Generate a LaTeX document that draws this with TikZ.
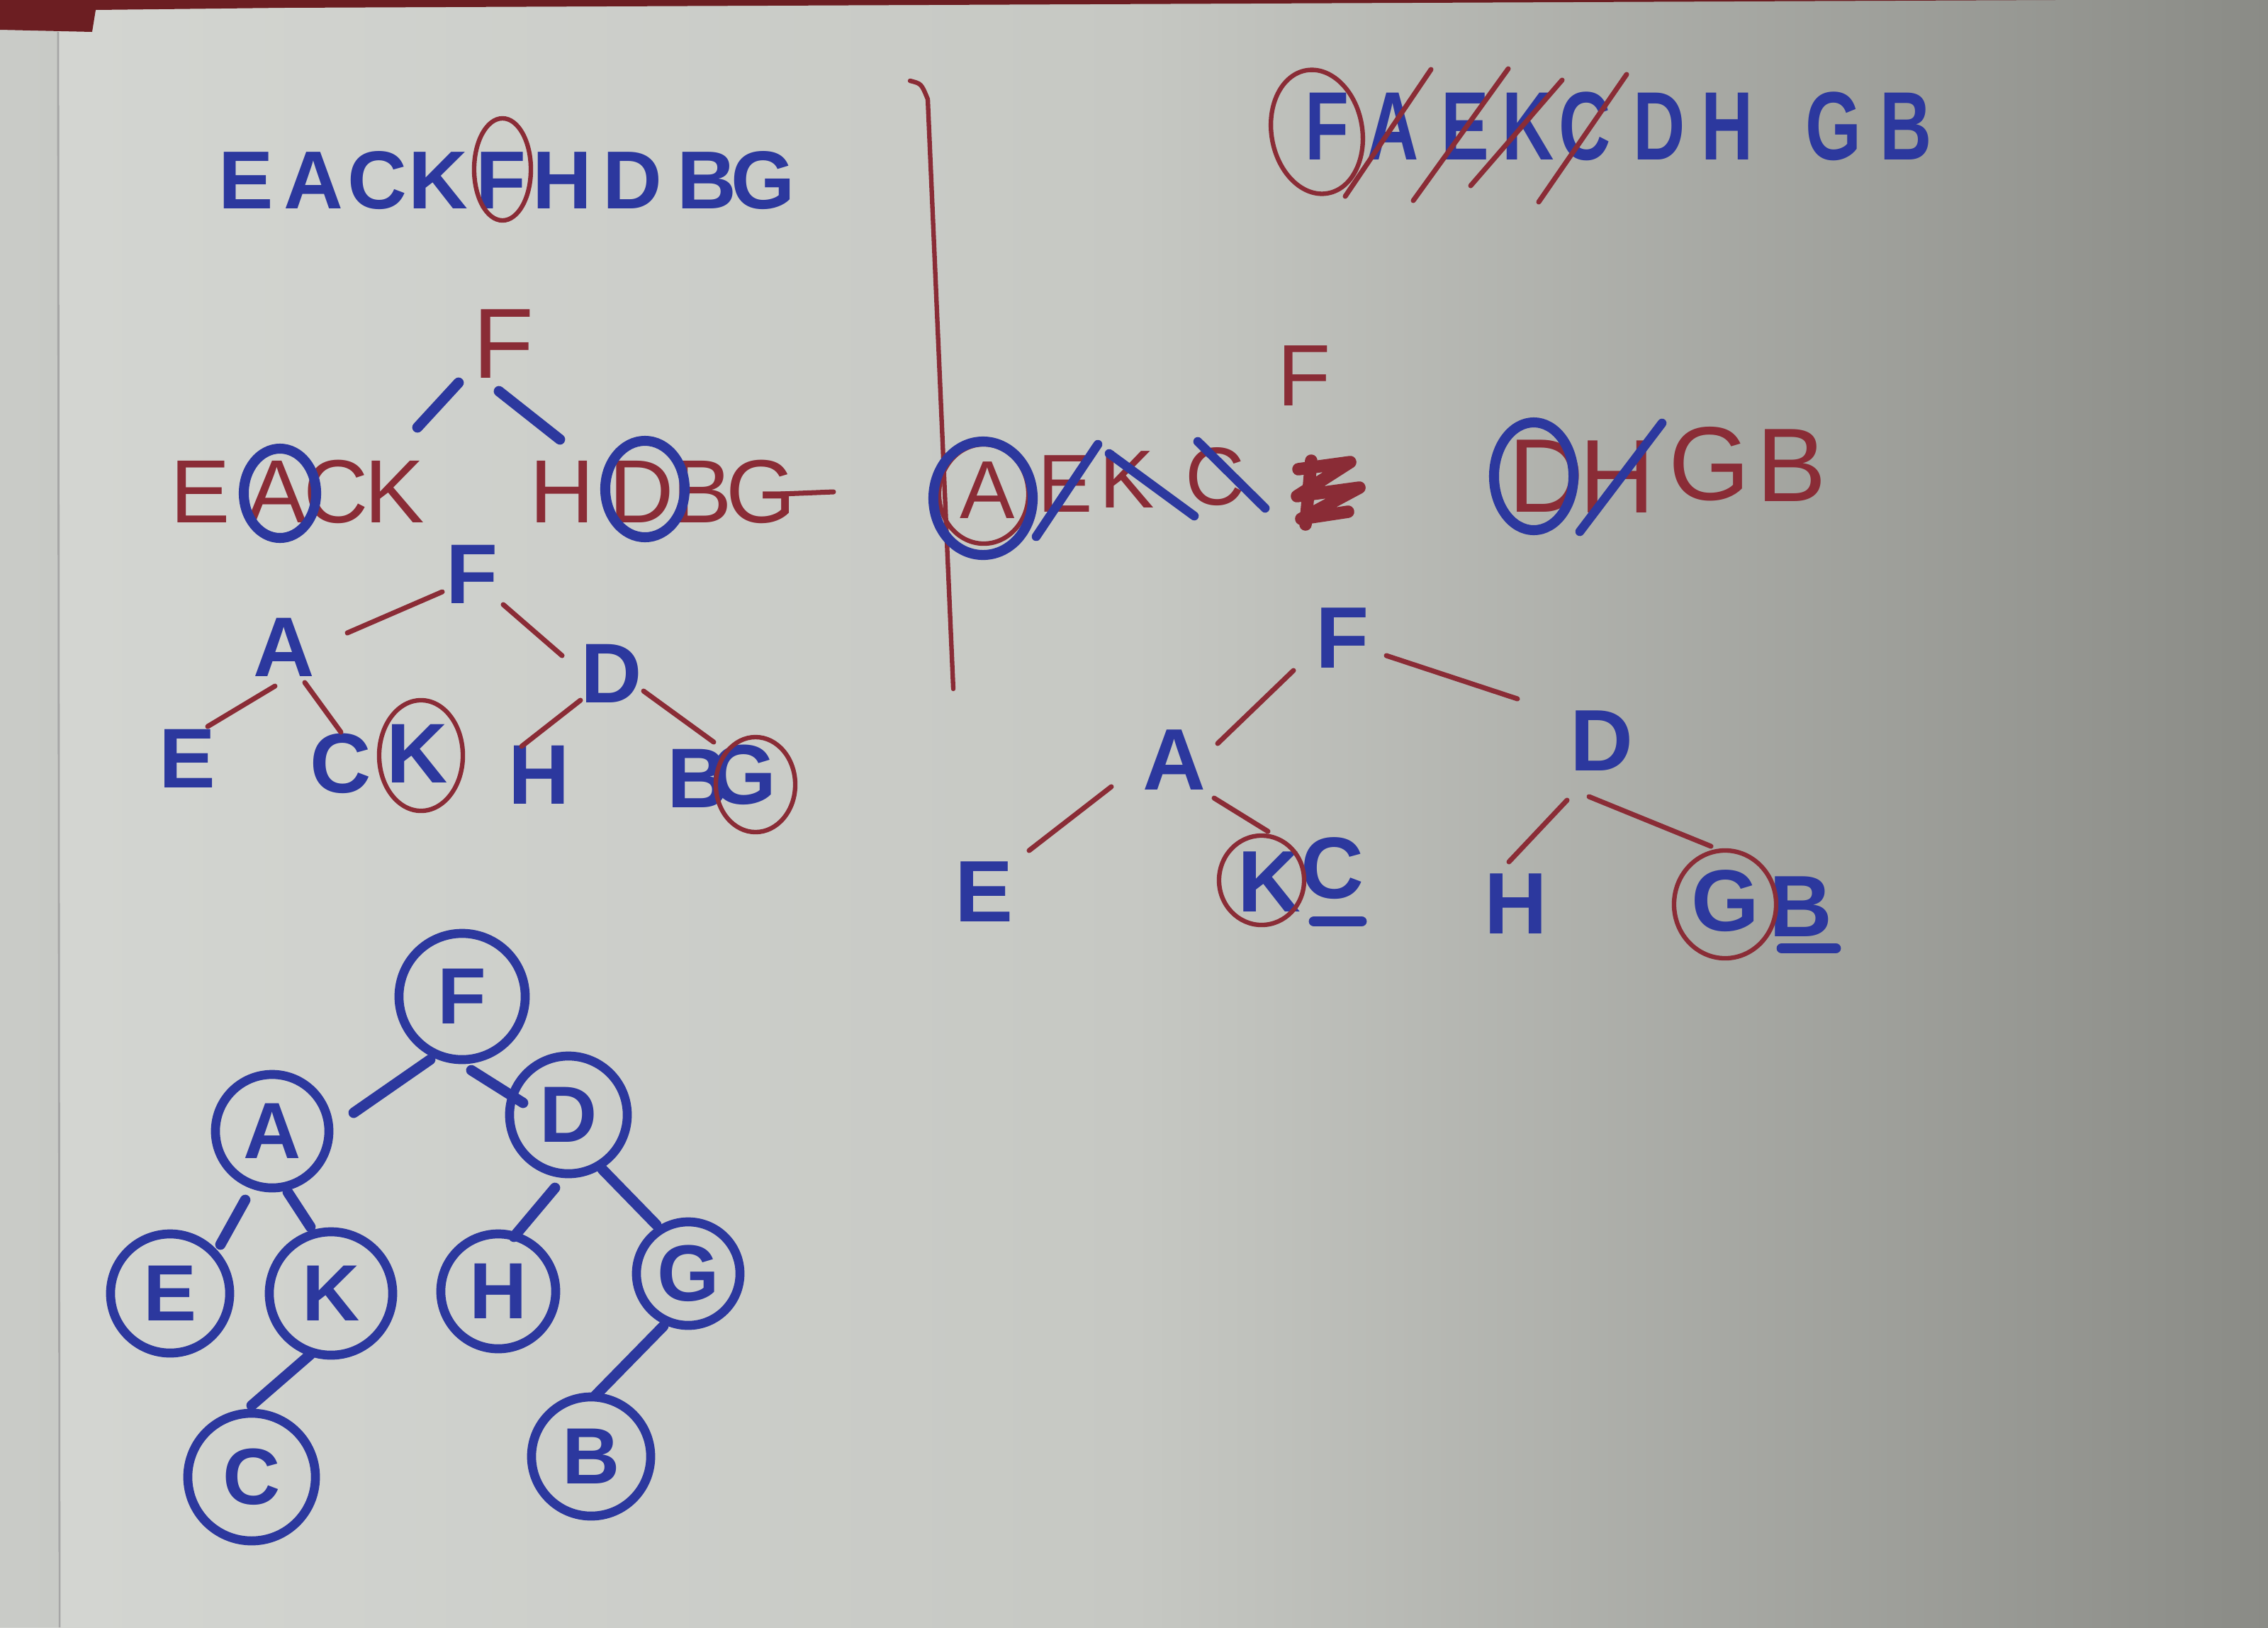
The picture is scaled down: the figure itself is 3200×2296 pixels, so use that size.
\documentclass[tikz,border=0pt]{standalone}
\usepackage{fontspec}
\setmainfont{Liberation Sans}
\newfontfamily\narrowsf[FakeStretch=0.74]{Liberation Sans}
\definecolor{ink}{RGB}{44,56,158}
\definecolor{pen}{RGB}{138,44,54}
\definecolor{tablecol}{RGB}{108,30,34}
\definecolor{paperL}{RGB}{212,214,210}
\definecolor{paperM}{RGB}{198,200,195}
\definecolor{paperR}{RGB}{138,139,134}
\begin{document}
\begin{tikzpicture}[x=0.01cm,y=-0.01cm,
  mk/.style={text=ink, font=\bfseries\fontsize{#1}{#1}\selectfont, inner sep=0pt},
  mkn/.style={text=ink, font=\narrowsf\bfseries\fontsize{#1}{#1}\selectfont, inner sep=0pt},
  pn/.style={text=pen, font=\fontsize{#1}{#1}\selectfont, inner sep=0pt},
  penline/.style={draw=pen, line width=2pt, line cap=round},
  inkline/.style={draw=ink, line width=4.2pt, line cap=round},
  pring/.style={draw=pen, line width=1.8pt},
  iring/.style={draw=ink, line width=4pt},
  bnode/.style={circle, draw=ink, line width=3.6pt, text=ink,
    font=\bfseries\fontsize{32}{32}\selectfont, inner sep=0pt, minimum size=#1},
]
\useasboundingbox (0,0) rectangle (3200,2296);
% paper and table
\shade[left color=paperL, right color=paperM] (0,0) rectangle (1600,2296);
\shade[left color=paperM, right color=paperR] (1600,0) rectangle (3200,2296);
\fill[black, opacity=0.05] (0,0) rectangle (82,2296);
\draw[black!35, line width=0.8pt] (82,45) -- (84,2296);
\fill[tablecol] (0,0) -- (2900,0) -- (400,11) -- (135,14) -- (130,45) -- (0,42) -- cycle;

% ---------- top-left sequence ----------
\foreach \l/\x [count=\i] in {E/347,A/442,C/532,K/618,F/707,H/793,D/892,B/997,G/1077}
  \node[mk=33] (sa\i) at (\x,255) {\l};
\draw[pring] (709,239) ellipse [x radius=0.40cm, y radius=0.72cm];

% ---------- first split ----------
\node[pn=40] (Fa) at (710,485) {F};
\foreach \l/\x [count=\i] in {E/283,A/391,C/474,K/557}
  \node[pn=36] (La\i) at (\x,694) {\l};
\foreach \l/\x [count=\i] in {H/793,D/905,B/991,G/1074}
  \node[pn=36] (Ra\i) at (\x,694) {\l};
\draw[penline] ([shift={(28,3)}]Ra4.center) -- ([shift={(102,0)}]Ra4.center);
\draw[iring] (395,696) ellipse [x radius=0.51cm, y radius=0.63cm];
\draw[iring] (910,690) ellipse [x radius=0.56cm, y radius=0.68cm];
\draw[inkline] ([shift={(-63,55)}]Fa.center) -- ([shift={(198,-91)}]La2.center);
\draw[inkline] ([shift={(-6,67)}]Fa.center) -- ([shift={(-115,-74)}]Ra2.center);

% ---------- tree 2 ----------
\node[mk=34] (Fb) at (666,810) {F};
\node[mk=34] (Ab) at (401,913) {A};
\node[mk=34] (Db) at (863,950) {D};
\node[mk=34] (Eb) at (264,1070) {E};
\node[mk=34] (Cb) at (481,1077) {C};
\node[mk=34] (Kb) at (589,1063) {K};
\node[mk=34] (Hb) at (761,1093) {H};
\node[mk=34] (Bb) at (985,1098) {B};
\node[mk=34] (Gb) at (1049,1093) {G};
\draw[pring] (594,1066) ellipse [x radius=0.59cm, y radius=0.78cm];
\draw[pring] (1066,1107) ellipse [x radius=0.56cm, y radius=0.67cm];
\draw[penline] ([shift={(-42,25)}]Fb.center) -- ([shift={(89,-20)}]Ab.center);
\draw[penline] ([shift={(44,43)}]Fb.center) -- ([shift={(-70,-25)}]Db.center);
\draw[penline] ([shift={(-13,55)}]Ab.center) -- ([shift={(29,-45)}]Eb.center);
\draw[penline] ([shift={(29,50)}]Ab.center) -- ([shift={(0,-44)}]Cb.center);
\draw[penline] ([shift={(-44,38)}]Db.center) -- ([shift={(-25,-40)}]Hb.center);
\draw[penline] ([shift={(45,25)}]Db.center) -- ([shift={(22,-51)}]Bb.center);

% ---------- divider ----------
\draw[penline, line width=1.8pt] (1284,114) .. controls (1300,118) .. (1309,140) -- (1345,972);

% ---------- top-right sequence ----------
\foreach \l/\x [count=\i] in {F/1872,A/1965,E/2067,K/2156,C/2236,D/2341,H/2437,G/2587,B/2689}
  \node[mkn=39] (sc\i) at (\x,178) {\l};
\draw[pring, rotate around={10:(1858,186)}] (1858,186) ellipse [x radius=0.64cm, y radius=0.88cm];
\draw[penline] (2019,98) -- (1898,277);
\draw[penline] (2128,97) -- (1994,283);
\draw[penline] (2204,113) -- (2075,262);
\draw[penline] (2295,105) -- (2171,285);

% ---------- second split ----------
\node[pn=35] (Fc) at (1840,530) {F};
\foreach \l/\x/\y [count=\i] in {A/1393/692,E/1503/683,K/1590/677,C/1714/673}
  \node[pn=33] (Lc\i) at (\x,\y) {\l};
\draw[pring] (1388,697) ellipse [x radius=0.63cm, y radius=0.70cm];
\draw[iring] (1387,703) ellipse [x radius=0.70cm, y radius=0.80cm];
\draw[inkline, line width=3.6pt] (1549,627) -- (1462,757);
\draw[inkline, line width=3.6pt] (1565,640) -- (1685,728);
\draw[inkline, line width=3.6pt] (1690,623) -- (1785,717);
\draw[pen, line width=5pt, line cap=round, line join=round]
  (1832,662) -- (1905,652) -- (1830,700) -- (1918,688) -- (1836,732) -- (1902,722);
\draw[pen, line width=5pt, line cap=round] (1850,650) -- (1842,740);
\foreach \l/\x/\y [count=\i] in {D/2182/672,H/2282/673,G/2412/655,B/2528/657}
  \node[pn=42] (Rc\i) at (\x,\y) {\l};
\draw[iring] (2164,672) ellipse [x radius=0.56cm, y radius=0.76cm];
\draw[inkline, line width=3.6pt] (2345,597) -- (2229,750);

% ---------- tree 3 ----------
\node[mk=35] (Fd) at (1894,900) {F};
\node[mk=35] (Ad) at (1657,1072) {A};
\node[mk=35] (Dd) at (2260,1045) {D};
\node[mk=35] (Ed) at (1389,1258) {E};
\node[mk=35] (Kd) at (1791,1244) {K};
\node[mk=35] (Cd) at (1880,1225) {C};
\node[mk=35] (Hd) at (2139,1275) {H};
\node[mk=35] (Gd) at (2434,1271) {G};
\node[mk=35] (Bd) at (2541,1279) {B};
\draw[pring] (1780,1242) ellipse [x radius=0.60cm, y radius=0.63cm];
\draw[pring] (2434,1276) ellipse [x radius=0.72cm, y radius=0.76cm];
\draw[inkline] ([shift={(-26,75)}]Cd.center) -- ([shift={(41,75)}]Cd.center);
\draw[inkline] ([shift={(-27,59)}]Bd.center) -- ([shift={(49,59)}]Bd.center);
\draw[penline] ([shift={(-69,46)}]Fd.center) -- ([shift={(61,-23)}]Ad.center);
\draw[penline] ([shift={(62,25)}]Fd.center) -- ([shift={(-119,-59)}]Dd.center);
\draw[penline] ([shift={(-89,38)}]Ad.center) -- ([shift={(63,-58)}]Ed.center);
\draw[penline] ([shift={(56,54)}]Ad.center) -- ([shift={(-2,-71)}]Kd.center);
\draw[penline] ([shift={(-49,84)}]Dd.center) -- ([shift={(-10,-59)}]Hd.center);
\draw[penline] ([shift={(-18,79)}]Dd.center) -- ([shift={(-20,-77)}]Gd.center);

% ---------- final tree ----------
\node[bnode=1.78cm] (Fe) at (652,1406) {F};
\node[bnode=1.60cm] (Ae) at (384,1596) {A};
\node[bnode=1.66cm] (De) at (802,1573) {D};
\node[bnode=1.68cm] (Ee) at (240,1825) {E};
\node[bnode=1.74cm] (Ke) at (467,1825) {K};
\node[bnode=1.62cm] (He) at (703,1822) {H};
\node[bnode=1.46cm] (Ge) at (971,1797) {G};
\node[bnode=1.80cm] (Ce) at (355,2084) {C};
\node[bnode=1.68cm] (Be) at (834,2055) {B};
\draw[inkline] ([shift={(-45,89)}]Fe.center) -- ([shift={(115,-26)}]Ae.center);
\draw[inkline] ([shift={(13,104)}]Fe.center) -- ([shift={(-64,-17)}]De.center);
\draw[inkline] ([shift={(-38,97)}]Ae.center) -- ([shift={(71,-69)}]Ee.center);
\draw[inkline] ([shift={(22,86)}]Ae.center) -- ([shift={(-29,-94)}]Ke.center);
\draw[inkline] ([shift={(-19,103)}]De.center) -- ([shift={(22,-77)}]He.center);
\draw[inkline] ([shift={(48,77)}]De.center) -- ([shift={(-45,-69)}]Ge.center);
\draw[inkline] ([shift={(-29,86)}]Ke.center) -- ([shift={(0,-101)}]Ce.center);
\draw[inkline] ([shift={(-35,74)}]Ge.center) -- ([shift={(6,-86)}]Be.center);
\end{tikzpicture}
\end{document}
